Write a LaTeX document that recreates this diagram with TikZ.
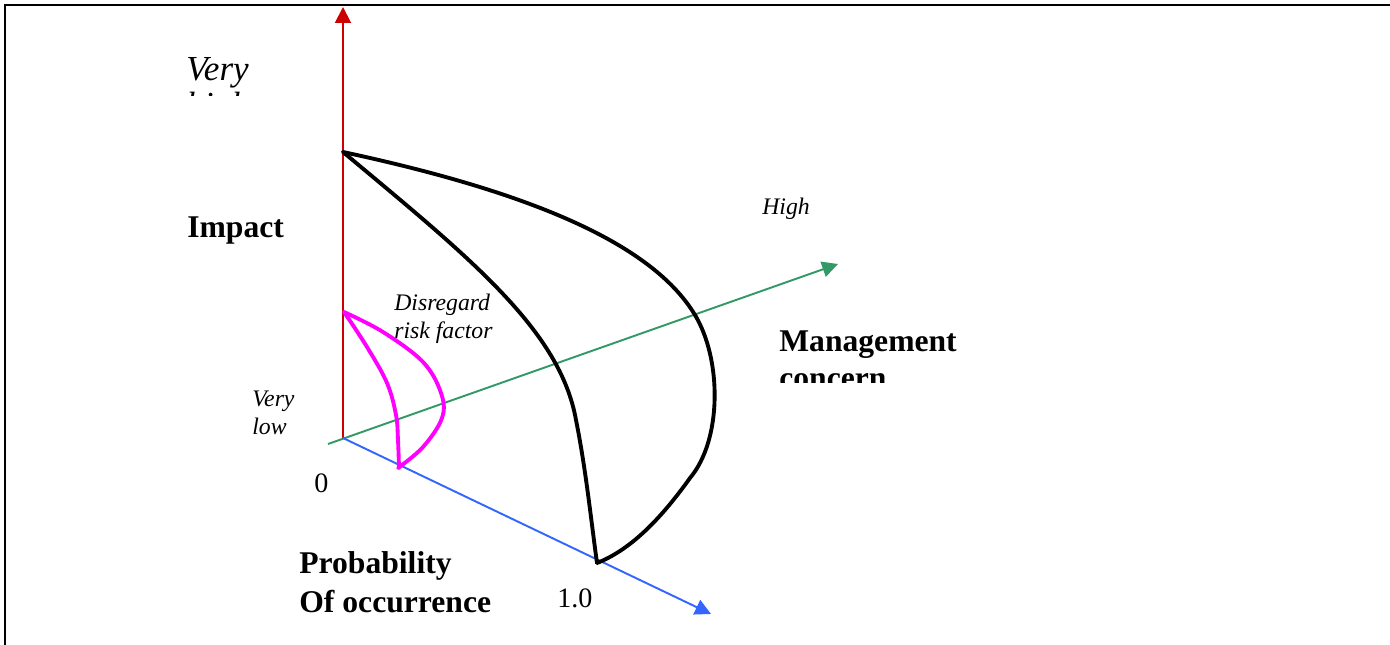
\documentclass[tikz,border=0pt]{standalone}
\usepackage{fontspec}
\setmainfont{Liberation Serif}
\usetikzlibrary{arrows.meta,positioning}
\definecolor{impactred}{RGB}{204,0,0}
\definecolor{concerngreen}{RGB}{51,153,102}
\definecolor{probblue}{RGB}{51,102,255}
\definecolor{lowmagenta}{RGB}{255,0,255}

\begin{document}
\begin{tikzpicture}[x=0.02cm, y=-0.02cm,
  axis/.style={-{Triangle[length=9pt,width=9pt]}, line width=1.1pt},
  hull/.style={line width=2.2pt, line join=round, line cap=round},
  axlabel/.style={font=\fontsize{18}{22}\selectfont\bfseries, align=left, anchor=base west, inner sep=0},
  levellbl/.style={font=\fontsize{13.5}{15.5}\selectfont\itshape, align=left, anchor=base west, inner sep=0},
  ticklbl/.style={font=\fontsize{16}{19}\selectfont, anchor=base west, inner sep=0}
]
\useasboundingbox (0,0) rectangle (1390,645);
% Frame
\draw[line width=1.2pt] (5,645) -- (5,5) -- (1390,5);

% Axes
\coordinate (O) at (343,438);
\coordinate (impactEnd) at (343,7);
\coordinate (concernStart) at (328,444);
\coordinate (concernEnd) at (838,264);
\coordinate (probEnd) at (711,614);
\draw[axis, impactred] (O) -- (impactEnd);
\draw[axis, concerngreen] (concernStart) -- (concernEnd);
\draw[axis, probblue] (O) -- (probEnd);

% High concern region
\coordinate (hiTop) at (343,152);
\coordinate (hiBot) at (597,563);
\draw[hull] (hiTop) .. controls (520,190) and (650,240) .. (695,315)
  .. controls (722,360) and (722,440) .. (690,478)
  .. controls (660,520) and (630,550) .. (hiBot);
\draw[hull] (hiTop) .. controls (470,258) and (560,330) .. (576,420)
  .. controls (586,470) and (591,520) .. (hiBot);

% Disregard region
\draw[hull, lowmagenta] plot[smooth, tension=0.6] coordinates {(344,312) (383,332) (423,362) (441,393) (442,418) (423,447) (398,468)};
\draw[hull, lowmagenta] plot[smooth, tension=0.6] coordinates {(344,312) (367,347) (387,383) (396,415) (398,440) (399,468)};

% Labels (base anchor sits on the last line)
\begin{scope}
  \clip (150,30) rectangle (320,96);
  \node[levellbl, font=\fontsize{20}{21}\selectfont\itshape] (veryHigh) at (186,117) {Very\\high};
\end{scope}
\node[axlabel] (impact) at (187,238) {Impact};
\node[levellbl] (disregard) at (394,338) {Disregard\\risk factor};
\node[levellbl] (veryLow) at (252,434) {Very\\low};
\node[ticklbl] (zero) at (314,492) {0};
\node[levellbl] (high) at (762,215) {High};
\begin{scope}
  \clip (760,300) rectangle (1000,382);
  \node[axlabel, font=\fontsize{18}{21}\selectfont\bfseries] (mgmt) at (779,388) {Management\\concern};
\end{scope}
\node[axlabel] (prob) at (299,612) {Probability\\Of occurrence};
\node[ticklbl] (one) at (557,607) {1.0};
\end{tikzpicture}
\end{document}
